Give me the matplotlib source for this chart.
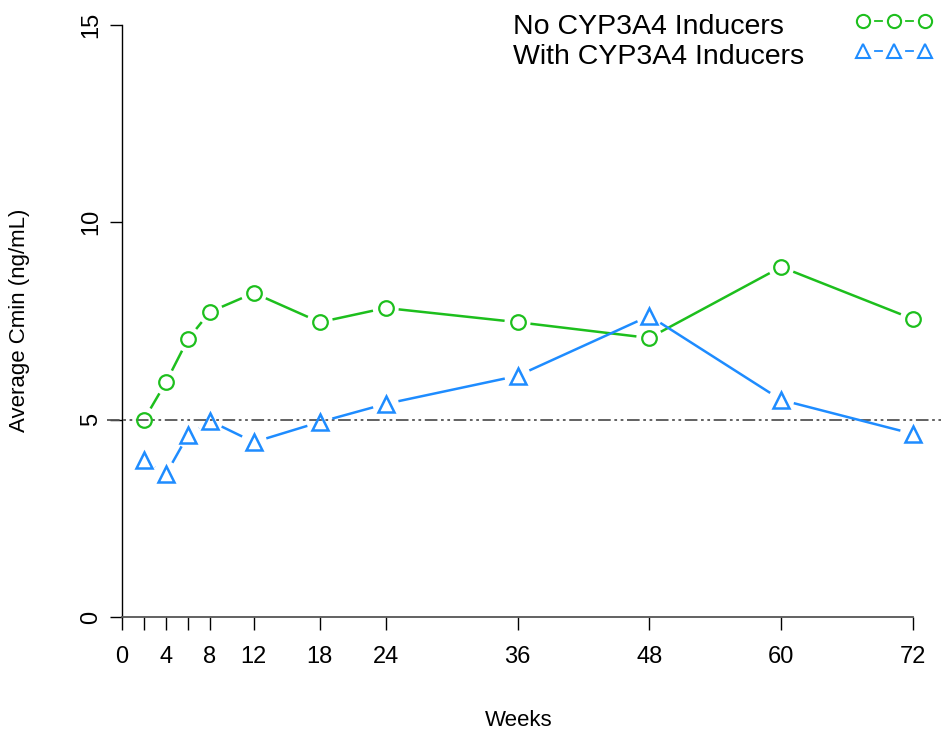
import matplotlib.pyplot as plt
import numpy as np

plt.rcParams['font.family'] = ['Liberation Sans', 'DejaVu Sans']

weeks = [2, 4, 6, 8, 12, 18, 24, 36, 48, 60, 72]
no_inducers = [5.0, 5.95, 7.04, 7.73, 8.21, 7.47, 7.83, 7.47, 7.07, 8.87, 7.55]
with_inducers = [3.98, 3.62, 4.61, 4.97, 4.43, 4.94, 5.40, 6.11, 7.63, 5.50, 4.64]
tick_weeks = [0, 2, 4, 6, 8, 12, 18, 24, 36, 48, 60, 72]
label_weeks = [0, 4, 8, 12, 18, 24, 36, 48, 60, 72]
threshold = 5

green = '#1DBF1D'
blue = '#1E8CFF'

fig = plt.figure(figsize=(9.41, 7.29), dpi=100)
ax = fig.add_axes([107 / 941, 112 / 729, 1 - 107 / 941, 592 / 729])
ax.set_xlim(-1.37, 74.55)
ax.set_ylim(0, 15)


def gapped(ax, x, y, color, gap=13):
    # line segments that stop short of each marker (R type="b")
    pts = ax.transData.transform(np.column_stack([x, y]))
    inv = ax.transData.inverted()
    for p, q in zip(pts[:-1], pts[1:]):
        d = q - p
        n = np.hypot(*d)
        if n <= 2 * gap:
            continue
        u = d / n
        a = inv.transform(p + u * gap)
        b = inv.transform(q - u * gap)
        ax.plot([a[0], b[0]], [a[1], b[1]], color=color, lw=1.8,
                solid_capstyle='butt', clip_on=False)


ax.plot([-1.37, 74.55], [threshold, threshold], color='#555555', lw=1.3,
        dashes=(7, 2, 1.5, 2, 1.5, 2), clip_on=False)

gapped(ax, weeks, no_inducers, green)
gapped(ax, weeks, with_inducers, blue)
ax.plot(weeks, no_inducers, 'o', ms=10.5, mfc='none', mec=green, mew=1.6, clip_on=False)
ax.plot(weeks, with_inducers, '^', ms=11.5, mfc='none', mec=blue, mew=1.8, clip_on=False)

for s in ['top', 'right']:
    ax.spines[s].set_visible(False)
ax.spines['left'].set_position(('data', 0))
ax.spines['left'].set_bounds(0, 15)
ax.spines['bottom'].set_bounds(0, 72)
ax.spines['bottom'].set_color('#555555')
ax.spines['left'].set_linewidth(1.0)
ax.spines['bottom'].set_linewidth(1.3)

ax.set_xticks(tick_weeks)
ax.set_xticklabels([str(w) if w in label_weeks else '' for w in tick_weeks])
ax.set_yticks([0, 5, 10, 15])
ax.set_yticklabels(['0', '5', '10', '15'], rotation=90, va='center')
ax.tick_params(axis='x', length=9, width=1, pad=12, labelsize=17)
ax.tick_params(axis='y', length=9, width=1, pad=5, labelsize=17)

fig.text(519 / 941, 1 - 720 / 729, 'Weeks', ha='center', va='center', fontsize=16)
fig.text(20 / 941, 1 - 320 / 729, 'Average Cmin (ng/mL)', ha='center', va='center',
         rotation=90, fontsize=16)

# legend
fig.text(513 / 941, 1 - 27 / 729, 'No CYP3A4 Inducers', ha='left', va='center', fontsize=20.5)
fig.text(513 / 941, 1 - 57 / 729, 'With CYP3A4 Inducers', ha='left', va='center', fontsize=20.5)
lx = [863 / 941, 894 / 941, 925 / 941]
for yy, col, mk, ms in [(1 - 21 / 729, green, 'o', 9.5), (1 - 51 / 729, blue, '^', 10.5)]:
    for a, b in zip(lx[:-1], lx[1:]):
        m = (a + b) / 2
        fig.add_artist(plt.Line2D([m - 3.5 / 941, m + 3.5 / 941], [yy, yy], color=col, lw=1.3))
    fig.add_artist(plt.Line2D(lx, [yy] * 3, ls='none', marker=mk, ms=ms, mfc='none',
                              mec=col, mew=1.5))

fig.savefig('out.png', dpi=100)
